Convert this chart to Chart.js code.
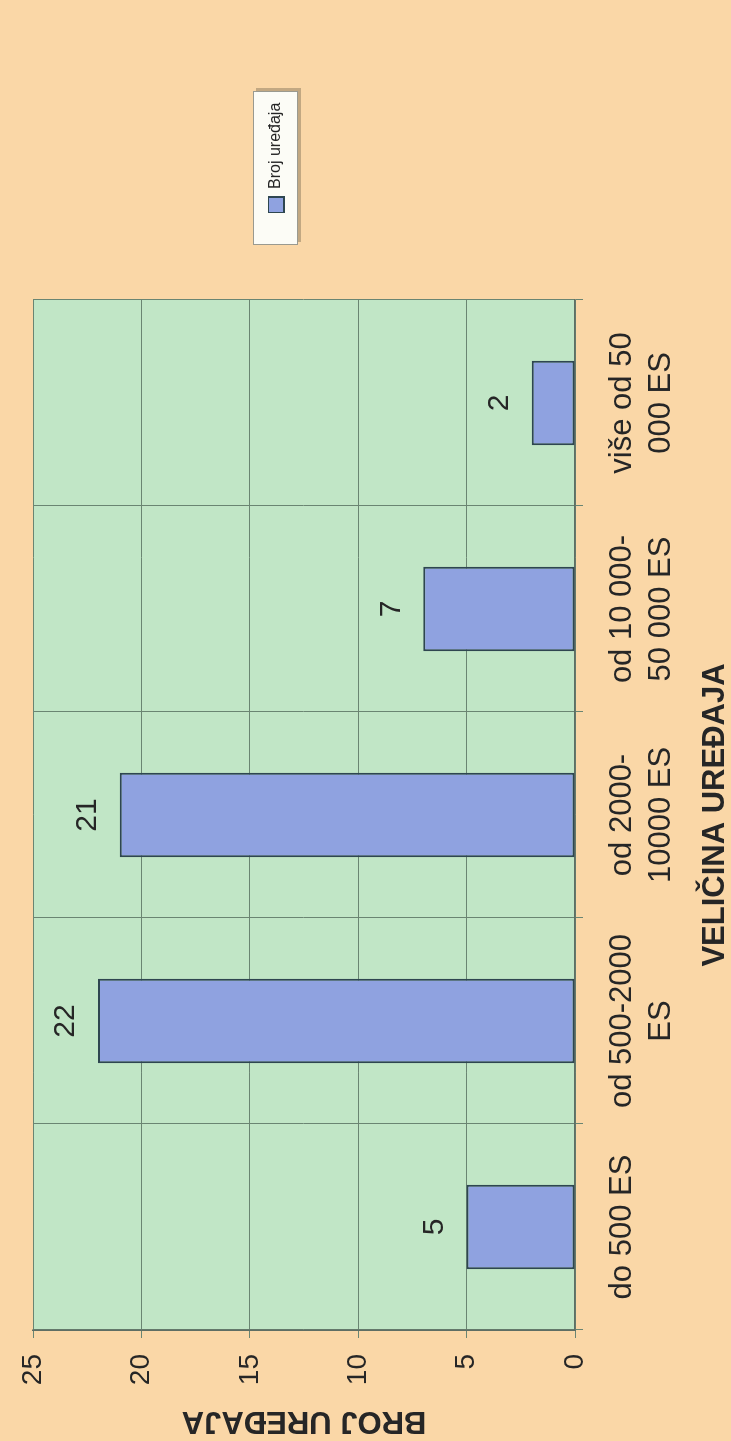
<!DOCTYPE html>
<html>
<head>
<meta charset="utf-8">
<title>Broj uređaja prema veličini</title>
<script src="https://cdn.jsdelivr.net/npm/chart.js@4/dist/chart.umd.min.js"></script>
<style>
  html, body { margin: 0; padding: 0; background: #FAD7A7; overflow: hidden; width: 731px; height: 1441px; }
  /* the chart is laid out landscape and turned a quarter turn counter-clockwise */
  #wrap {
    position: absolute; left: 0; top: 0;
    width: 1441px; height: 731px;
    transform-origin: 0 0;
    transform: translate(0, 1441px) rotate(-90deg);
  }
  canvas { display: block; }
</style>
</head>
<body>
<div id="wrap"><canvas id="chart" width="1441" height="731"></canvas></div>
<script>
// Plant size classes (population equivalents) and number of plants in each
const categories = [
  ["do 500 ES"],
  ["od 500-2000", "ES"],
  ["od 2000-", "10000 ES"],
  ["od 10 000-", "50 000 ES"],
  ["više od 50", "000 ES"]
];
const seriesName = "Broj uređaja";
const counts = [5, 22, 21, 7, 2];
const valueTicks = [0, 5, 10, 15, 20, 25];
const xTitle = "VELIČINA UREĐAJA";
const yTitle = "BROJ UREĐAJA";

const FONT = "'Liberation Sans', Arial, sans-serif";
const TEXT = "#262626";
const GRID = "#6A8572";
const PLOT_BG = "#C1E6C6";
const BAR_FILL = "#8FA2E0";
const BAR_EDGE = "#2E4650";

// green plot area and the white legend frame, painted before the scales
const backdrop = {
  id: "backdrop",
  beforeDraw(chart) {
    const { ctx, chartArea: a } = chart;
    ctx.save();
    ctx.fillStyle = PLOT_BG;
    ctx.fillRect(a.left, a.top, a.right - a.left, a.bottom - a.top);
    const lg = chart.legend;
    const bx = lg.left - 32, by = lg.top - 15, bw = 154, bh = 45;
    ctx.fillStyle = "rgba(90,80,60,0.35)";
    ctx.fillRect(bx + 3, by + 3, bw, bh);
    ctx.fillStyle = "#FCFCF6";
    ctx.fillRect(bx, by, bw, bh);
    ctx.strokeStyle = "#9A9A90";
    ctx.lineWidth = 1;
    ctx.strokeRect(bx + 0.5, by + 0.5, bw - 1, bh - 1);
    ctx.restore();
  }
};

// legend sits to the right of the plot, a little above its middle
const legendPlace = {
  id: "legendPlace",
  afterLayout(chart) {
    const lg = chart.legend;
    const w = lg.width, h = lg.height;
    lg.left = 1228; lg.right = lg.left + w;
    lg.top = 268; lg.bottom = lg.top + Math.max(h, 40);
  }
};

// value written above each bar
const valueLabels = {
  id: "valueLabels",
  afterDatasetsDraw(chart) {
    const { ctx } = chart;
    const meta = chart.getDatasetMeta(0);
    ctx.save();
    ctx.font = "30px " + FONT;
    ctx.fillStyle = TEXT;
    ctx.textAlign = "center";
    ctx.textBaseline = "middle";
    meta.data.forEach((bar, i) => {
      ctx.fillText(String(counts[i]), bar.x, bar.y - 32);
    });
    ctx.restore();
  }
};

new Chart(document.getElementById("chart"), {
  type: "bar",
  data: {
    labels: categories,
    datasets: [{
      label: seriesName,
      data: counts,
      backgroundColor: BAR_FILL,
      borderColor: BAR_EDGE,
      borderWidth: 2,
      borderSkipped: false,
      barPercentage: 0.41,
      categoryPercentage: 1.0
    }]
  },
  options: {
    responsive: false,
    animation: false,
    devicePixelRatio: 1,
    layout: { padding: { left: 0, top: 33, right: 300, bottom: 0 } },
    plugins: {
      legend: {
        display: true,
        position: "chartArea",
        align: "start",
        labels: {
          font: { family: FONT, size: 16 },
          color: TEXT,
          boxWidth: 16,
          boxHeight: 16,
          padding: 0
        }
      },
      tooltip: { enabled: false },
      title: { display: false }
    },
    scales: {
      x: {
        type: "category",
        offset: true,
        afterFit(scale) { scale.height = 156; },
        grid: { display: true, offset: true, color: GRID, lineWidth: 1, tickLength: 8, drawTicks: true },
        border: { display: true, color: "#5E6E64", width: 1.5 },
        ticks: {
          font: { family: FONT, size: 31, lineHeight: 1.26 },
          color: TEXT,
          padding: 20,
          maxRotation: 0,
          autoSkip: false
        },
        title: {
          display: true,
          text: xTitle,
          font: { family: FONT, size: 31, weight: "bold", lineHeight: 1 },
          color: TEXT,
          padding: { top: 0, bottom: 0 }
        }
      },
      y: {
        type: "linear",
        min: valueTicks[0],
        max: valueTicks[valueTicks.length - 1],
        afterFit(scale) { scale.width = 111; },
        afterBuildTicks(scale) { scale.ticks = valueTicks.map(v => ({ value: v })); },
        grid: { display: true, color: GRID, lineWidth: 1, tickLength: 8, drawTicks: true },
        border: { display: true, color: "#5E6E64", width: 1.5 },
        ticks: {
          font: { family: FONT, size: 28 },
          color: TEXT,
          padding: 16
        },
        title: {
          display: true,
          text: yTitle,
          font: { family: FONT, size: 31, weight: "bold", lineHeight: 1.1 },
          color: TEXT,
          padding: { top: 3, bottom: 0 }
        }
      }
    }
  },
  plugins: [backdrop, legendPlace, valueLabels]
});
</script>
</body>
</html>
